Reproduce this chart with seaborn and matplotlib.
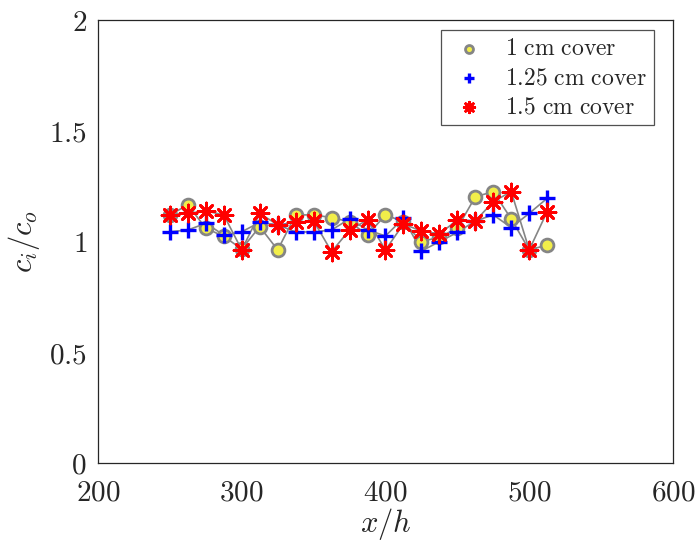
import matplotlib
matplotlib.use("Agg")
import matplotlib.pyplot as plt
import seaborn as sns
import pandas as pd
from matplotlib.ticker import FuncFormatter

x_h = [250, 262.5, 275, 287.5, 300, 312.5, 325, 337.5, 350, 362.5, 375,
       387.5, 400, 412.5, 425, 437.5, 450, 462.5, 475, 487.5, 500, 512.5]
cover_1 = [1.120, 1.165, 1.060, 1.023, 0.966, 1.067, 0.962, 1.120, 1.120, 1.108, 1.089,
           1.029, 1.120, 1.089, 0.999, 1.020, 1.060, 1.202, 1.225, 1.102, 0.962, 0.984]
cover_125 = [1.044, 1.052, 1.082, 1.029, 1.044, 1.086, 1.075, 1.043, 1.043, 1.052, 1.102,
             1.052, 1.025, 1.105, 0.957, 0.999, 1.041, 1.093, 1.120, 1.063, 1.127, 1.195]
cover_15 = [1.120, 1.127, 1.138, 1.120, 0.962, 1.127, 1.075, 1.086, 1.093, 0.954, 1.052,
            1.097, 0.962, 1.079, 1.047, 1.034, 1.097, 1.093, 1.180, 1.225, 0.962, 1.135]
labels = ["1 cm cover", "1.25 cm cover", "1.5 cm cover"]
x_ticks = [200, 300, 400, 500, 600]
y_ticks = [0, 0.5, 1, 1.5, 2]

sns.set_style("white")
plt.rcParams["mathtext.fontset"] = "cm"
plt.rcParams["font.family"] = ["DejaVu Serif"]

fig = plt.figure(figsize=(6.95, 5.42), dpi=100)
ax = fig.add_axes([0.141, 0.1458, 0.8273, 0.8173])

series = [cover_1, cover_125, cover_15]
for vals in series:
    df = pd.DataFrame({"x": x_h, "y": vals})
    sns.lineplot(data=df, x="x", y="y", ax=ax, color="#858585", linewidth=1.2,
                 sort=False, legend=False, zorder=1)

styles = [
    dict(marker="o", s=85, color="#f2ee4a", edgecolor="#858585", linewidth=2.0),
    dict(marker="+", s=120, color="#0000ff", linewidth=2.4),
    dict(marker=(8, 2, 0), s=150, color="#ff0000", linewidth=2.0),
]
for i, (vals, lab, st) in enumerate(zip(series, labels, styles)):
    df = pd.DataFrame({"x": x_h, "y": vals})
    sns.scatterplot(data=df, x="x", y="y", ax=ax, label=r"$\mathrm{%s}$" % lab.replace(" ", r"\ "),
                    zorder=3 + i, **st)

ax.set_xlim(200, 600)
ax.set_ylim(0, 2)
ax.set_xticks(x_ticks)
ax.set_yticks(y_ticks)
fmt = FuncFormatter(lambda v, p: r"$%g$" % v)
ax.xaxis.set_major_formatter(fmt)
ax.yaxis.set_major_formatter(fmt)
ax.tick_params(direction="in", length=5, width=0.8, labelsize=21, top=False, right=False,
               colors="#262626", labelcolor="#262626")
ax.tick_params(axis="x", pad=11)
ax.tick_params(axis="y", pad=8)
for sp in ax.spines.values():
    sp.set_color("#262626")
    sp.set_linewidth(0.9)
ax.set_xlabel(r"$x/h$", fontsize=22, color="#262626", labelpad=0)
ax.set_ylabel(r"$c_i/c_o$", fontsize=22, color="#262626", labelpad=5)

leg = ax.legend(loc="upper right", bbox_to_anchor=(0.967, 0.977), borderaxespad=0,
                fontsize=17, markerscale=0.62, frameon=True, fancybox=False,
                edgecolor="#262626", handletextpad=0.7, borderpad=0.3, labelspacing=0.25,
                handlelength=1.7)
leg.get_frame().set_linewidth(0.9)

fig.savefig("out.png", dpi=100)
